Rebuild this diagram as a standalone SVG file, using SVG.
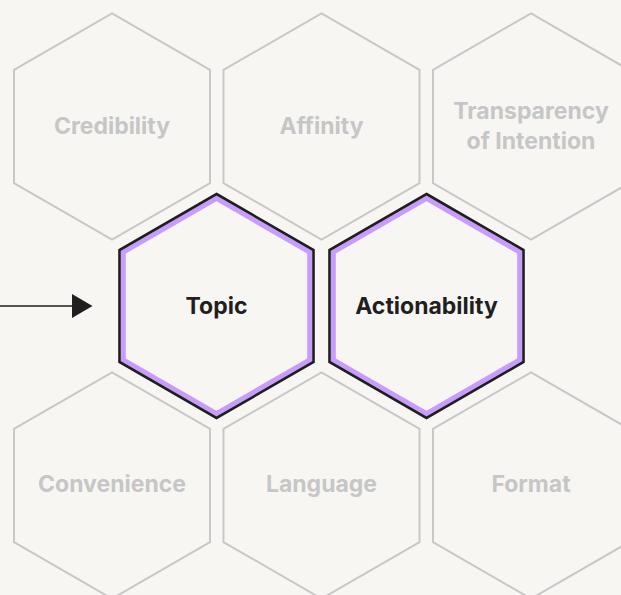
<svg xmlns="http://www.w3.org/2000/svg" width="621" height="595" viewBox="0 0 621 595">
<style>
.bg{fill:#f7f6f3}
.hex{fill:none;stroke:#c8c8c8;stroke-width:2}
.hp{fill:none;stroke:#c89cff;stroke-width:5}
.hb{fill:none;stroke:#1f1f1f;stroke-width:2.6}
.t{font-family:Inter,"Liberation Sans",sans-serif;font-weight:700;font-size:23px;text-anchor:middle}
.g{fill:#c6c6c6}
.k{fill:#1f1f1f}
</style>
<rect class="bg" x="0" y="0" width="621" height="595"/>
<g id="credibility"><polygon class="hex" points="112,13.3 210,69.9 210,183.1 112,239.7 14,183.1 14,69.9"/><text class="t g" x="112" y="133.5">Credibility</text></g>
<g id="affinity"><polygon class="hex" points="321.5,13.3 419.5,69.9 419.5,183.1 321.5,239.7 223.5,183.1 223.5,69.9"/><text class="t g" x="321.5" y="133.5">Affinity</text></g>
<g id="transparency"><polygon class="hex" points="531,13.3 629,69.9 629,183.1 531,239.7 433,183.1 433,69.9"/><text class="t g" x="531" y="118.5">Transparency</text><text class="t g" x="531" y="148.5">of Intention</text></g>
<g id="topic"><polygon class="hp" points="216.5,198.4 309.7,252.2 309.7,359.8 216.5,413.6 123.3,359.8 123.3,252.2"/><polygon class="hb" points="216.5,194 313.5,250 313.5,362 216.5,418 119.5,362 119.5,250"/><text class="t k" x="216.5" y="313.5">Topic</text></g>
<g id="actionability"><polygon class="hp" points="426.5,198.4 519.7,252.2 519.7,359.8 426.5,413.6 333.3,359.8 333.3,252.2"/><polygon class="hb" points="426.5,194 523.5,250 523.5,362 426.5,418 329.5,362 329.5,250"/><text class="t k" x="426.5" y="313.5">Actionability</text></g>
<g id="convenience"><polygon class="hex" points="112,372.3 210,428.9 210,542.1 112,598.7 14,542.1 14,428.9"/><text class="t g" x="112" y="492">Convenience</text></g>
<g id="language"><polygon class="hex" points="321.5,372.3 419.5,428.9 419.5,542.1 321.5,598.7 223.5,542.1 223.5,428.9"/><text class="t g" x="321.5" y="492">Language</text></g>
<g id="format"><polygon class="hex" points="531,372.3 629,428.9 629,542.1 531,598.7 433,542.1 433,428.9"/><text class="t g" x="531" y="492">Format</text></g>
<g id="connectors"><line x1="0" y1="306" x2="73" y2="306" stroke="#1f1f1f" stroke-width="1.5"/><polygon points="72,294 92.5,306 72,318" fill="#1f1f1f"/></g>
</svg>
